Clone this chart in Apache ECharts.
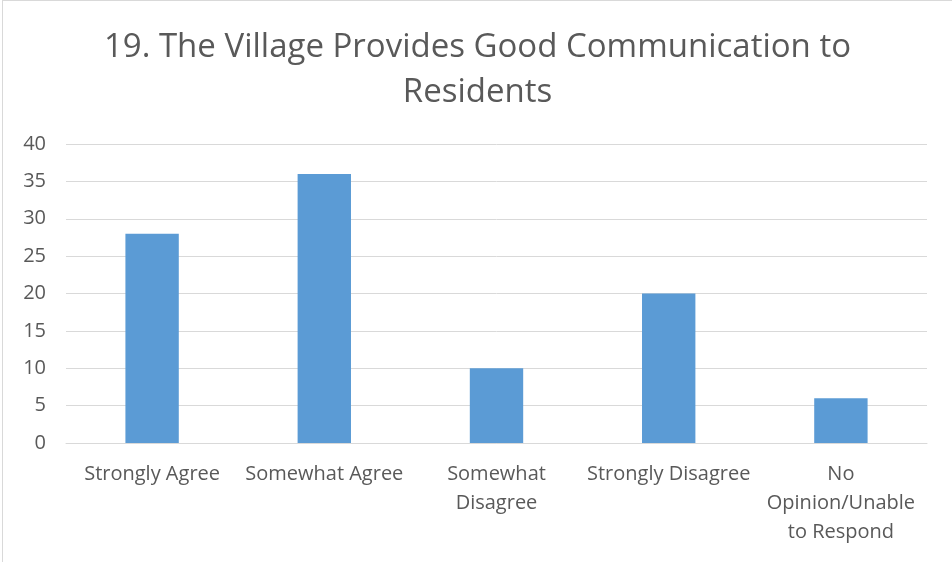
<!DOCTYPE html>
<html><head><meta charset="utf-8">
<script src="https://cdn.jsdelivr.net/npm/echarts@6/dist/echarts.min.js"></script>
<style>html,body{margin:0;padding:0;background:#fff}#c{width:950px;height:562px;box-sizing:border-box;border-top:1px solid #d9d9d9;border-left:1px solid #d9d9d9;margin-left:2px}</style>
</head><body><div id="c"></div>
<script>
const titleText = '19. The Village Provides Good Communication to\nResidents';
const categories = ['Strongly Agree', 'Somewhat Agree', 'Somewhat\nDisagree', 'Strongly Disagree', 'No\nOpinion/Unable\nto Respond'];
const values = [28, 36, 10, 20, 6];
const yTicks = [0, 5, 10, 15, 20, 25, 30, 35, 40];

const chart = echarts.init(document.getElementById('c'), null, {renderer: 'canvas'});
chart.setOption({
  animation: false,
  title: {
    text: titleText, left: 'center', top: 19,
    textStyle: {fontFamily: 'Open Sans', fontSize: 33, fontWeight: 'normal', color: '#595959', lineHeight: 45}
  },
  grid: {left: 63, right: 25, top: 143, bottom: 119},
  xAxis: {
    type: 'category', data: categories,
    axisLine: {lineStyle: {color: '#d9d9d9', width: 1}},
    axisTick: {show: false},
    axisLabel: {fontFamily: 'Open Sans', fontSize: 20, color: '#595959', lineHeight: 29, margin: 17, interval: 0}
  },
  yAxis: {
    type: 'value', min: yTicks[0], max: yTicks[yTicks.length-1], interval: 5,
    axisLine: {show: false}, axisTick: {show: false},
    splitLine: {lineStyle: {color: '#d9d9d9', width: 1}},
    axisLabel: {fontFamily: 'Open Sans', fontSize: 20, color: '#595959', margin: 20}
  },
  series: [{
    type: 'bar', data: values, barWidth: '31%',
    itemStyle: {color: '#5b9bd5'}
  }]
});
</script></body></html>
